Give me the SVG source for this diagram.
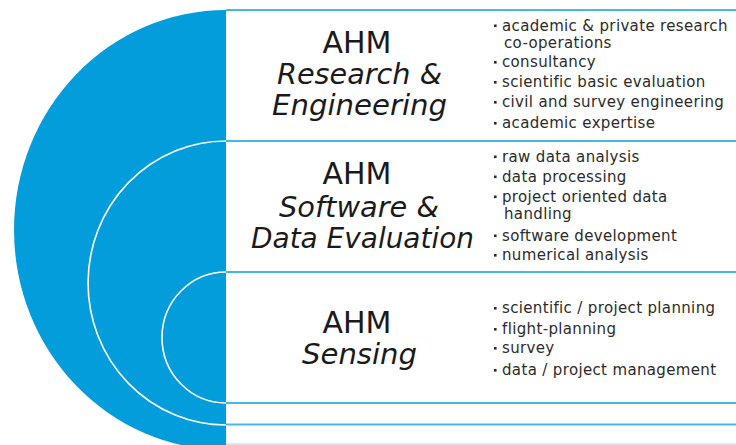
<svg xmlns="http://www.w3.org/2000/svg" width="736" height="445" viewBox="0 0 736 445">
<style>
.bg{fill:#ffffff}
.blue{fill:#039ddc}
.arc{fill:none;stroke:#ffffff;stroke-width:1.6}
.sep{stroke:#46b8e8;stroke-width:2}
.t{font-family:"DejaVu Sans","Liberation Sans",sans-serif;font-size:30px;fill:#1a1a1a;text-anchor:middle}
.ti{font-style:italic;font-size:29px}
.b{font-family:"DejaVu Sans","Liberation Sans",sans-serif;font-size:15px;fill:#2b2b2b;letter-spacing:0.35px}
.dot{fill:#2b2b2b}
</style>
<rect class="bg" x="0" y="0" width="736" height="445"/>
<g id="backdrop">
<path class="blue" d="M226,10 A212,220 0 0 0 226,450 Z"/>
<path class="arc" d="M226,141 A138,142 0 0 0 226,425"/>
<path class="arc" d="M226,272 A64,65.5 0 0 0 226,403"/>
</g>
<g id="connectors">
<line class="sep" x1="226" y1="10" x2="736" y2="10"/>
<line class="sep" x1="226" y1="141" x2="736" y2="141"/>
<line class="sep" x1="226" y1="272" x2="736" y2="272"/>
<line class="sep" x1="226" y1="403" x2="736" y2="403"/>
<line class="sep" x1="226" y1="424.5" x2="736" y2="424.5"/>
<line class="sep" x1="226" y1="444" x2="736" y2="444" style="stroke-width:1;opacity:0.5"/>
</g>
<g id="research">
<text class="t" x="357" y="53">AHM</text>
<text class="t ti" x="359.5" y="84" textLength="165" lengthAdjust="spacingAndGlyphs">Research &amp;</text>
<text class="t ti" x="359.5" y="115" textLength="175" lengthAdjust="spacingAndGlyphs">Engineering</text>
<rect class="dot" x="494" y="24.5" width="2.6" height="2.6"/>
<text class="b" x="502" y="30.5">academic &amp; private research</text>
<text class="b" x="504" y="48">co-operations</text>
<rect class="dot" x="494" y="61" width="2.6" height="2.6"/>
<text class="b" x="502" y="67">consultancy</text>
<rect class="dot" x="494" y="81" width="2.6" height="2.6"/>
<text class="b" x="502" y="87">scientific basic evaluation</text>
<rect class="dot" x="494" y="101" width="2.6" height="2.6"/>
<text class="b" x="502" y="107">civil and survey engineering</text>
<rect class="dot" x="494" y="122" width="2.6" height="2.6"/>
<text class="b" x="502" y="128">academic expertise</text>
</g>
<g id="software">
<text class="t" x="357" y="184">AHM</text>
<text class="t ti" x="359" y="216.5" textLength="160" lengthAdjust="spacingAndGlyphs">Software &amp;</text>
<text class="t ti" x="362.5" y="248" textLength="223" lengthAdjust="spacingAndGlyphs">Data Evaluation</text>
<rect class="dot" x="494" y="155.5" width="2.6" height="2.6"/>
<text class="b" x="502" y="161.5">raw data analysis</text>
<rect class="dot" x="494" y="175.5" width="2.6" height="2.6"/>
<text class="b" x="502" y="181.5">data processing</text>
<rect class="dot" x="494" y="195.5" width="2.6" height="2.6"/>
<text class="b" x="502" y="201.5">project oriented data</text>
<text class="b" x="504" y="219">handling</text>
<rect class="dot" x="494" y="234.5" width="2.6" height="2.6"/>
<text class="b" x="502" y="240.5">software development</text>
<rect class="dot" x="494" y="254" width="2.6" height="2.6"/>
<text class="b" x="502" y="260">numerical analysis</text>
</g>
<g id="sensing">
<text class="t" x="357" y="333">AHM</text>
<text class="t ti" x="359.5" y="364" textLength="115" lengthAdjust="spacingAndGlyphs">Sensing</text>
<rect class="dot" x="494" y="307" width="2.6" height="2.6"/>
<text class="b" x="502" y="313">scientific / project planning</text>
<rect class="dot" x="494" y="328" width="2.6" height="2.6"/>
<text class="b" x="502" y="334">flight-planning</text>
<rect class="dot" x="494" y="347" width="2.6" height="2.6"/>
<text class="b" x="502" y="353">survey</text>
<rect class="dot" x="494" y="369" width="2.6" height="2.6"/>
<text class="b" x="502" y="375">data / project management</text>
</g>
</svg>
